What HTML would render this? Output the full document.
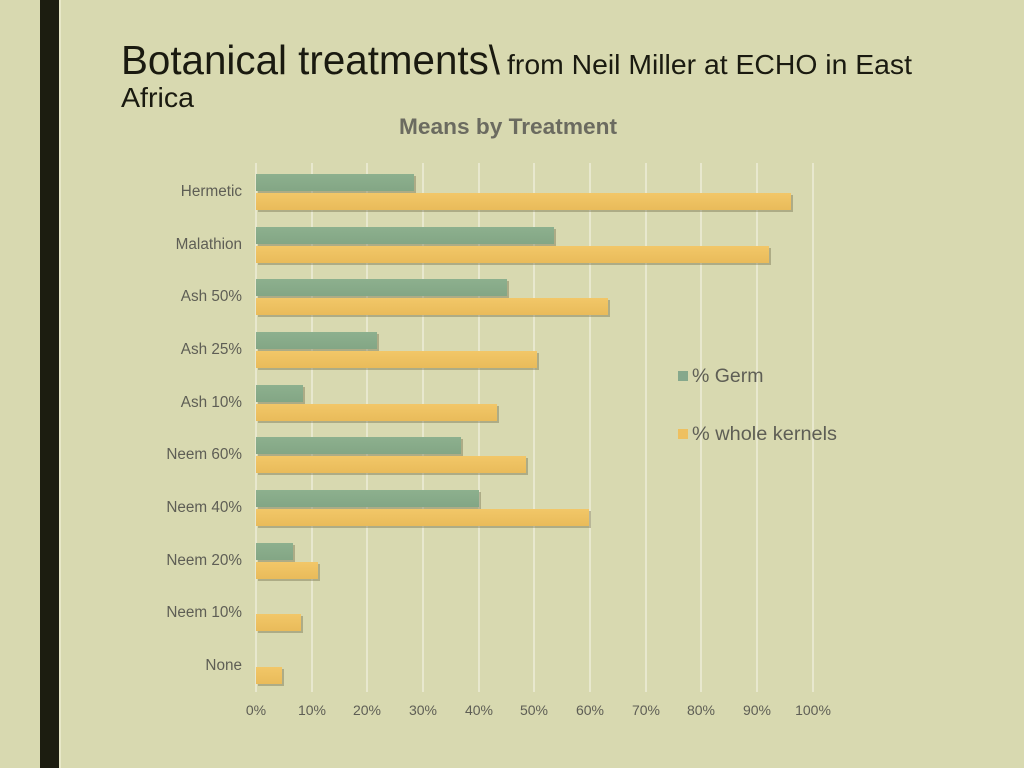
<!DOCTYPE html>
<html><head><meta charset="utf-8"><style>
html,body{margin:0;padding:0;background:#d8d9b0;}
svg{display:block}
</style></head><body>
<svg width="1024" height="768" xmlns="http://www.w3.org/2000/svg" font-family="Liberation Sans, sans-serif">
<defs>
<linearGradient id="g" x1="0" y1="0" x2="0" y2="1"><stop offset="0" stop-color="#8db08e"/><stop offset="1" stop-color="#83a685"/></linearGradient>
<linearGradient id="y" x1="0" y1="0" x2="0" y2="1"><stop offset="0" stop-color="#f2c768"/><stop offset="1" stop-color="#e9bb5a"/></linearGradient>
</defs>
<rect width="1024" height="768" fill="#d8d9b0"/>
<rect x="40" y="0" width="19" height="768" fill="#1c1d10"/>
<rect x="59" y="0" width="2" height="768" fill="#e8e8c8"/>
<text x="121" y="74" font-size="40.5" fill="#1a1a10" textLength="379" lengthAdjust="spacingAndGlyphs">Botanical treatments\</text>
<text x="507" y="74" font-size="28" fill="#1a1a10" textLength="405" lengthAdjust="spacingAndGlyphs">from Neil Miller at ECHO in East</text>
<text x="121" y="107" font-size="28" fill="#1a1a10" textLength="73" lengthAdjust="spacingAndGlyphs">Africa</text>
<text x="399" y="134" font-size="22" font-weight="bold" fill="#6b6b60" textLength="218" lengthAdjust="spacingAndGlyphs">Means by Treatment</text>
<g stroke="#eeeed8" stroke-width="1.5">
<line x1="256" y1="163" x2="256" y2="692"/><line x1="312" y1="163" x2="312" y2="692"/><line x1="367" y1="163" x2="367" y2="692"/><line x1="423" y1="163" x2="423" y2="692"/><line x1="479" y1="163" x2="479" y2="692"/><line x1="534" y1="163" x2="534" y2="692"/><line x1="590" y1="163" x2="590" y2="692"/><line x1="646" y1="163" x2="646" y2="692"/><line x1="701" y1="163" x2="701" y2="692"/><line x1="757" y1="163" x2="757" y2="692"/><line x1="813" y1="163" x2="813" y2="692"/>
</g>
<g font-size="14" fill="#5e5e55" text-anchor="middle">
<text x="256" y="715">0%</text><text x="312" y="715">10%</text><text x="367" y="715">20%</text><text x="423" y="715">30%</text><text x="479" y="715">40%</text><text x="534" y="715">50%</text><text x="590" y="715">60%</text><text x="646" y="715">70%</text><text x="701" y="715">80%</text><text x="757" y="715">90%</text><text x="813" y="715">100%</text>
</g>
<g font-size="15.3" fill="#5e5e55" text-anchor="end">
<text x="242" y="196">Hermetic</text><text x="242" y="249">Malathion</text><text x="242" y="301">Ash 50%</text><text x="242" y="354">Ash 25%</text><text x="242" y="407">Ash 10%</text><text x="242" y="459">Neem 60%</text><text x="242" y="512">Neem 40%</text><text x="242" y="565">Neem 20%</text><text x="242" y="617">Neem 10%</text><text x="242" y="670">None</text>
</g>
<g fill="#6e6a48" opacity="0.4">
<rect x="258" y="176" width="158" height="17"/><rect x="258" y="195" width="535" height="17"/>
<rect x="258" y="229" width="298" height="17"/><rect x="258" y="248" width="513" height="17"/>
<rect x="258" y="281" width="251" height="17"/><rect x="258" y="300" width="352" height="17"/>
<rect x="258" y="334" width="121" height="17"/><rect x="258" y="353" width="281" height="17"/>
<rect x="258" y="387" width="47" height="17"/><rect x="258" y="406" width="241" height="17"/>
<rect x="258" y="439" width="205" height="17"/><rect x="258" y="458" width="270" height="17"/>
<rect x="258" y="492" width="223" height="17"/><rect x="258" y="511" width="333" height="17"/>
<rect x="258" y="545" width="37" height="17"/><rect x="258" y="564" width="62" height="17"/>
<rect x="258" y="616" width="45" height="17"/>
<rect x="258" y="669" width="26" height="17"/>
</g>
<g fill="url(#g)">
<rect x="256" y="174" width="158" height="17"/>
<rect x="256" y="227" width="298" height="17"/>
<rect x="256" y="279" width="251" height="17"/>
<rect x="256" y="332" width="121" height="17"/>
<rect x="256" y="385" width="47" height="17"/>
<rect x="256" y="437" width="205" height="17"/>
<rect x="256" y="490" width="223" height="17"/>
<rect x="256" y="543" width="37" height="17"/>
</g>
<g fill="url(#y)">
<rect x="256" y="193" width="535" height="17"/>
<rect x="256" y="246" width="513" height="17"/>
<rect x="256" y="298" width="352" height="17"/>
<rect x="256" y="351" width="281" height="17"/>
<rect x="256" y="404" width="241" height="17"/>
<rect x="256" y="456" width="270" height="17"/>
<rect x="256" y="509" width="333" height="17"/>
<rect x="256" y="562" width="62" height="17"/>
<rect x="256" y="614" width="45" height="17"/>
<rect x="256" y="667" width="26" height="17"/>
</g>
<rect x="678" y="371" width="10" height="10" fill="#86a88c"/>
<text x="692" y="382" font-size="19.5" fill="#5e5e55">% Germ</text>
<rect x="678" y="429" width="10" height="10" fill="#eec060"/>
<text x="692" y="440" font-size="19.5" fill="#5e5e55" textLength="145" lengthAdjust="spacingAndGlyphs">% whole kernels</text>
</svg>
</body></html>
